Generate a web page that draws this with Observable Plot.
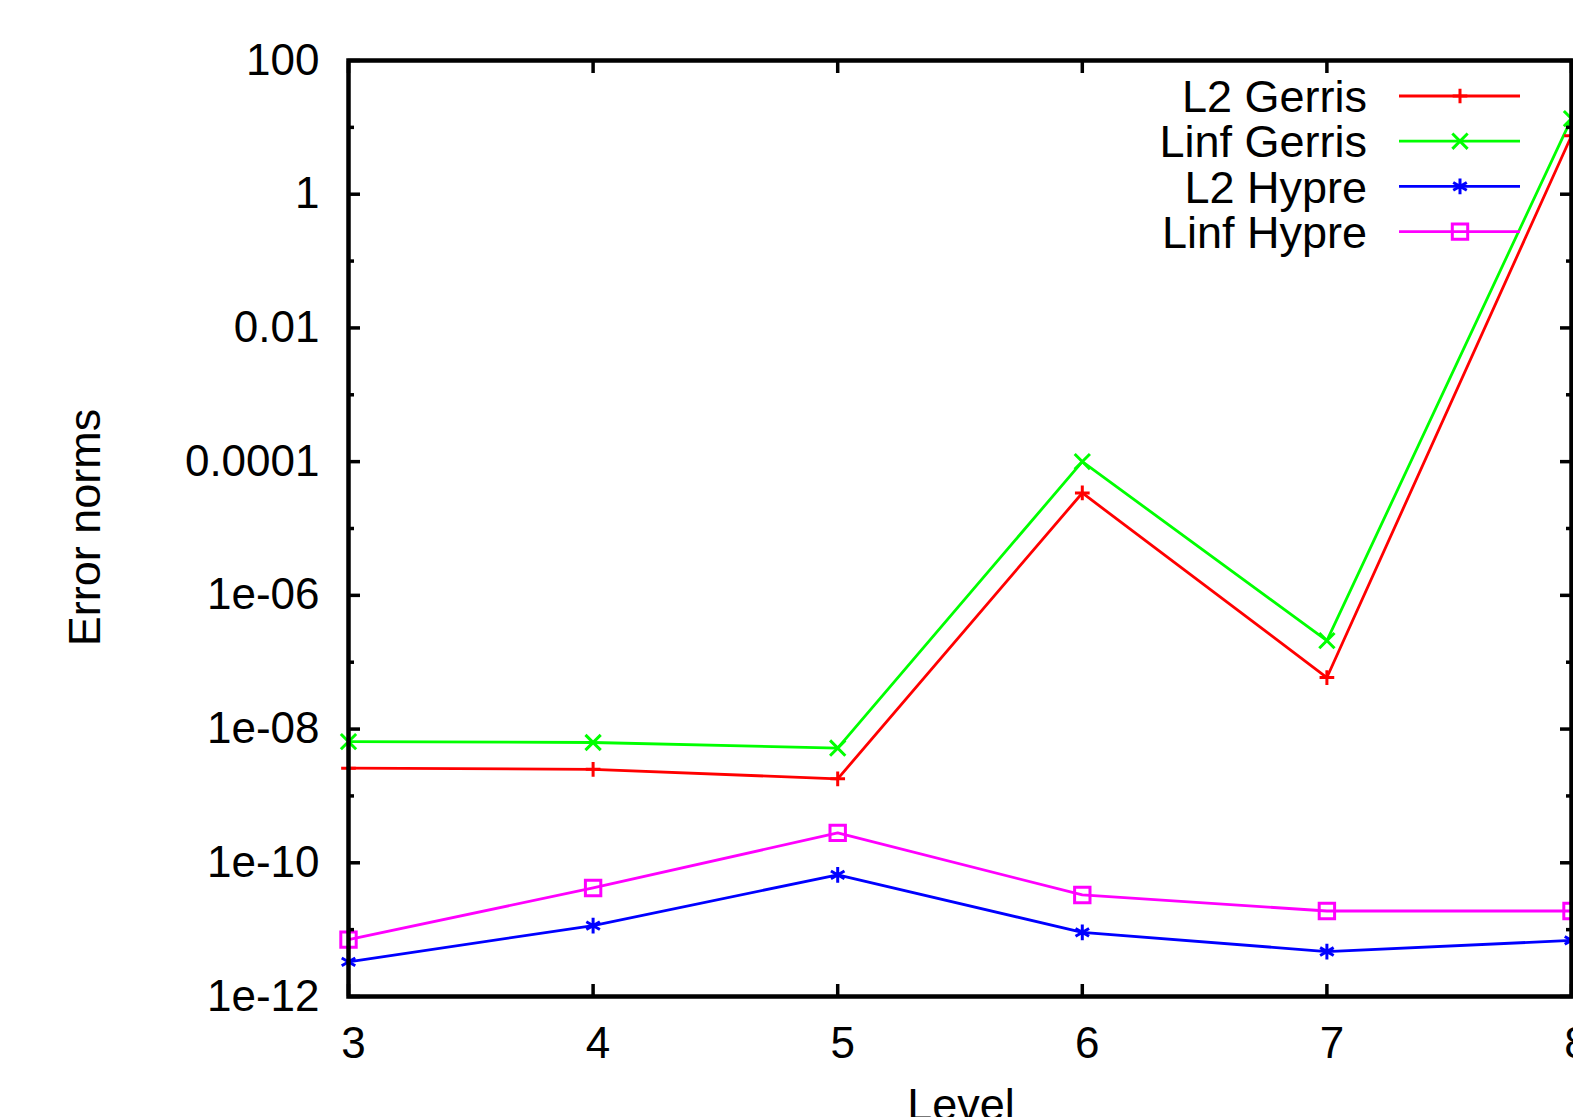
<!DOCTYPE html>
<html><head><meta charset="utf-8">
<script src="https://cdn.jsdelivr.net/npm/d3@7"></script>
<script src="https://cdn.jsdelivr.net/npm/@observablehq/plot@0.6"></script>
<style>
html,body{margin:0;padding:0;background:#fff;overflow:hidden;}
#wrap{position:relative;width:1573px;height:1117px;overflow:hidden;font-family:"Liberation Sans",Arial,Helvetica,sans-serif;color:#000;}
#wrap svg{display:block;}
.lbl{position:absolute;font-size:45px;line-height:45px;text-align:center;white-space:nowrap;}
#legend{position:absolute;left:0;top:0;pointer-events:none;}
</style></head><body><div id="wrap"></div>
<script>
// ---- data ----
const levels = [3, 4, 5, 6, 7, 8];
const l2Gerris   = [2.6e-9, 2.5e-9, 1.8e-9, 3.4e-5, 5.9e-8, 7.5];
const linfGerris = [6.5e-9, 6.3e-9, 5.2e-9, 1.0e-4, 2.1e-7, 13.5];
const l2Hypre    = [3.3e-12, 1.15e-11, 6.6e-11, 9.1e-12, 4.7e-12, 6.9e-12];
const linfHypre  = [7.1e-12, 4.2e-11, 2.8e-10, 3.3e-11, 1.9e-11, 1.9e-11];
const seriesNames = ["L2 Gerris", "Linf Gerris", "L2 Hypre", "Linf Hypre"];
const yMajorTicks = [100, 1, 1e-2, 1e-4, 1e-6, 1e-8, 1e-10, 1e-12];
const yTickLabels = ["100", "1", "0.01", "0.0001", "1e-06", "1e-08", "1e-10", "1e-12"];
const yMinorTicks = [10, 0.1, 1e-3, 1e-5, 1e-7, 1e-9, 1e-11];
const xTicks = [3, 4, 5, 6, 7, 8];
const xLabel = "Level";
const yLabel = "Error norms";

// ---- styles ----
const seriesColors = ["#ff0000", "#00ff00", "#0000ff", "#ff00ff"];
const seriesSymbols = ["plus", "times", "asterisk", "square2"];
const seriesR = [4.8, 7.0, 7.4, 9.8];

const seriesValues = [l2Gerris, linfGerris, l2Hypre, linfHypre];
const rows = [];
seriesNames.forEach((s, i) => levels.forEach((lv, j) => rows.push({series: s, level: lv, value: seriesValues[i][j]})));

const W = 1573, H = 1117;
const fs = 44;
const blank = () => "";

const marks = [
  Plot.line(rows, {x: "level", y: "value", z: "series", stroke: "series", strokeWidth: 2.8}),
  ...seriesNames.map((s, i) => Plot.dot(rows.filter(d => d.series === s), {
    x: "level", y: "value", stroke: "series", symbol: "series", r: seriesR[i], strokeWidth: 3, fill: "none"
  })),
  // tick labels
  Plot.axisY(yMajorTicks, {anchor: "left", tickSize: 0, tickPadding: 29, fontSize: fs, label: null,
    tickFormat: d => yTickLabels[yMajorTicks.indexOf(d)]}),
  Plot.axisX(xTicks, {anchor: "bottom", tickSize: 0, tickPadding: 30, dx: 5, fontSize: fs, label: null, tickFormat: d => String(d)}),
  // inward tick marks (mirrored)
  Plot.axisY(yMajorTicks, {anchor: "left", tickSize: -12, tickFormat: blank, label: null, strokeWidth: 3.5}),
  Plot.axisY(yMajorTicks, {anchor: "right", tickSize: -12, tickFormat: blank, label: null, strokeWidth: 3.5}),
  Plot.axisY(yMinorTicks, {anchor: "left", tickSize: -6, tickFormat: blank, label: null, strokeWidth: 3.5}),
  Plot.axisY(yMinorTicks, {anchor: "right", tickSize: -6, tickFormat: blank, label: null, strokeWidth: 3.5}),
  Plot.axisX(xTicks, {anchor: "bottom", tickSize: -12, tickFormat: blank, label: null, strokeWidth: 3.5}),
  Plot.axisX(xTicks, {anchor: "top", tickSize: -12, tickFormat: blank, label: null, strokeWidth: 3.5}),
  Plot.frame({stroke: "#000", strokeWidth: 4.5})
];

const chart = Plot.plot({
  width: W, height: H,
  marginLeft: 348, marginRight: 2, marginTop: 60, marginBottom: 121,
  style: {fontFamily: '"Liberation Sans", Arial, Helvetica, sans-serif', fontSize: fs + "px", color: "#000", background: "#fff", overflow: "visible"},
  x: {domain: [3, 8]},
  y: {type: "log", domain: [1e-12, 100]},
  color: {domain: seriesNames, range: seriesColors},
  symbol: {domain: seriesNames, range: seriesSymbols},
  marks
});
const wrap = document.getElementById("wrap");
wrap.appendChild(chart);

// axis titles
const yl = document.createElement("div");
yl.className = "lbl"; yl.textContent = yLabel;
yl.style.width = "300px"; yl.style.left = (84 - 150) + "px"; yl.style.top = (527 - 22) + "px";
yl.style.transform = "rotate(-90deg)";
wrap.appendChild(yl);
const xl = document.createElement("div");
xl.className = "lbl"; xl.textContent = xLabel;
xl.style.width = "300px"; xl.style.left = (961 - 150) + "px"; xl.style.top = "1082px";
wrap.appendChild(xl);

// legend
const lg = d3.select(wrap).append("svg").attr("id", "legend").attr("width", W).attr("height", H);
const symMap = {plus: d3.symbolPlus, times: d3.symbolTimes, asterisk: d3.symbolAsterisk, square2: d3.symbolSquare2};
seriesNames.forEach((s, i) => {
  const cy = 96 + i * 45.2;
  lg.append("text").attr("x", 1367).attr("y", cy).attr("text-anchor", "end").attr("dy", "0.36em")
    .attr("font-size", 45).attr("font-family", '"Liberation Sans", Arial, sans-serif').attr("fill", "#000").text(s);
  lg.append("line").attr("x1", 1399).attr("x2", 1520).attr("y1", cy).attr("y2", cy)
    .attr("stroke", seriesColors[i]).attr("stroke-width", 2.8);
  lg.append("path").attr("transform", `translate(1460,${cy})`)
    .attr("d", d3.symbol(symMap[seriesSymbols[i]], Math.PI * seriesR[i] * seriesR[i])())
    .attr("fill", "none").attr("stroke", seriesColors[i]).attr("stroke-width", 3);
});
</script>
</body></html>
